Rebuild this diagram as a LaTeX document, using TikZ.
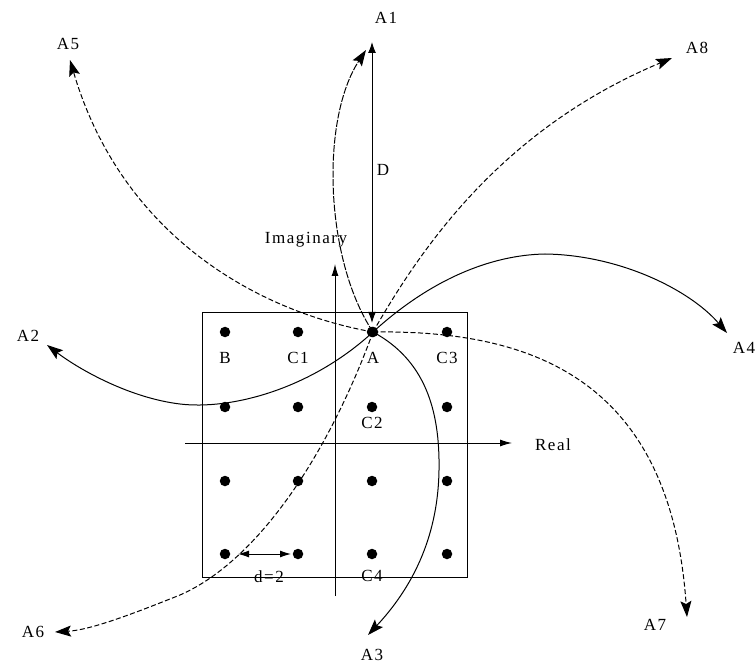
\documentclass[tikz,border=0pt]{standalone}
\usepackage{fontspec}
\setmainfont{Liberation Serif}[LetterSpace=9]
\usetikzlibrary{arrows.meta}
\begin{document}
\begin{tikzpicture}[x=1pt,y=-1pt,
  dot/.style={circle,fill=black,inner sep=0pt,minimum size=10.5pt},
  lbl/.style={font=\fontsize{17}{19}\selectfont,inner sep=0pt},
  curve/.style={line width=1pt,-{Stealth[length=16pt,width=11pt,inset=3pt]}},
  dsh/.style={dash pattern=on 5pt off 2.5pt},
  ddsh/.style={dash pattern=on 7pt off 1.5pt},
  axis/.style={line width=1pt,-{Latex[length=12pt,width=7pt]}},
  thin/.style={line width=1pt}]
\useasboundingbox (0,0) rectangle (755,668);
% square
\draw[thin] (202,313) rectangle (467,577);
% axes
\coordinate (xs) at (185,443);
\coordinate (xe) at (512,443);
\coordinate (ys) at (335,596);
\coordinate (ye) at (335,264);
\draw[axis] (xs) -- (xe);
\draw[axis] (ys) -- (ye);
% dots
\foreach \c/\x in {1/225,2/298,3/372,4/447}{
  \foreach \r/\y in {1/332,2/407,3/481,4/554}{
    \node[dot] (p\r\c) at (\x,\y) {};
  }}
\node[dot] (A) at (373,332) {};
% labels
\node[lbl] at (225,358) {B};
\node[lbl] at (298,358) {C1};
\node[lbl] at (373,358) {A};
\node[lbl] at (447,358) {C3};
\node[lbl] at (372,423) {C2};
\node[lbl] at (372,576) {C4};
\node[lbl] (dl) at (269,577) {d=2};
\node[lbl] at (553,445) {Real};
\node[lbl] at (306,240) {Imaginary};
\node[lbl] at (383,170) {D};
% end points
\coordinate (t1) at (366,50);
\coordinate (t2) at (47,345);
\coordinate (t3) at (368,635);
\coordinate (t4) at (727,333);
\coordinate (t5) at (70,60);
\coordinate (t6) at (55,632);
\coordinate (t7) at (687,617);
\coordinate (t8) at (672,58);
\node[lbl] (L1) at (386,18) {A1};
\node[lbl] (L2) at (28,336) {A2};
\node[lbl] (L3) at (372,655) {A3};
\node[lbl] (L4) at (744,348) {A4};
\node[lbl] (L5) at (68,44) {A5};
\node[lbl] (L6) at (33,632) {A6};
\node[lbl] (L7) at (655,625) {A7};
\node[lbl] (L8) at (697,48) {A8};
% D arrow
\coordinate (Dtop) at (372,42);
\coordinate (Dbot) at (372,323);
\draw[thin,{Latex[length=11pt,width=8pt]}-{Latex[length=11pt,width=8pt]}] (Dtop) -- (Dbot);
% d=2 arrow
\coordinate (ds) at (238,554);
\coordinate (de) at (291,554);
\draw[thin,{Latex[length=11pt,width=7pt]}-{Latex[length=11pt,width=7pt]}] (ds) -- (de);
% curves
\draw[curve,ddsh] (A.center) .. controls (325,260) and (320,120) .. (t1);
\draw[curve] (A.center) .. controls (425,360) and (440,410) .. (439,470)
   .. controls (438,540) and (410,590) .. (t3);
\draw[curve] (A.center) .. controls (310,390) and (230,410) .. (180,404)
   .. controls (130,398) and (80,370) .. (t2);
\draw[curve] (A.center) .. controls (430,280) and (490,255) .. (545,254)
   .. controls (620,255) and (690,290) .. (t4);
\draw[curve,dsh] (A.center) .. controls (250,310) and (120,230) .. (t5);
\draw[curve,dsh] (A.center) .. controls (420,250) and (500,130) .. (t8);
\draw[curve,dsh] (A.center) .. controls (330,450) and (260,560) .. (180,595)
   .. controls (130,615) and (90,630) .. (t6);
\draw[curve,dsh] (A.center) .. controls (520,330) and (670,370) .. (t7);
\end{tikzpicture}
\end{document}
